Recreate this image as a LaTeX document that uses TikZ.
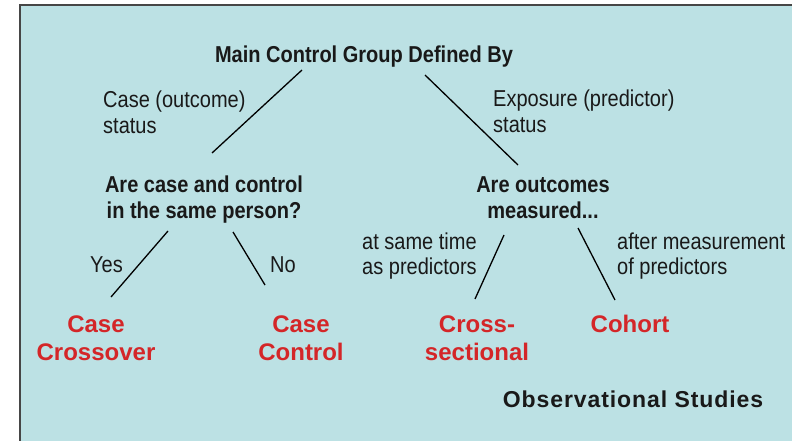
\documentclass[tikz,border=0pt]{standalone}
\usepackage{fontspec}
\setmainfont{Liberation Sans}
\newfontfamily\narrowsf[FakeStretch=0.87]{Liberation Sans}
\newfontfamily\spacedsf[LetterSpace=4]{Liberation Sans}
\definecolor{panelbg}{RGB}{188,225,228}
\definecolor{panelrule}{RGB}{70,70,70}
\definecolor{studyred}{RGB}{212,38,40}
\definecolor{inkdark}{RGB}{25,25,25}
\tikzset{
  lbl/.style={inner sep=0pt, text=inkdark, align=left,
    font=\narrowsf\fontsize{23}{25}\selectfont},
  question/.style={inner sep=0pt, text=inkdark, align=center,
    font=\narrowsf\bfseries\fontsize{23}{26}\selectfont},
  design/.style={inner sep=0pt, text=studyred, align=center,
    font=\bfseries\fontsize{24}{28}\selectfont},
  branch/.style={draw=black, line width=1.3pt},
}
\begin{document}
\begin{tikzpicture}[x=1pt, y=-1pt]
\useasboundingbox (0,0) rectangle (792,441);
% panel
\fill[panelbg] (20,5) rectangle (792,441);
\draw[panelrule, line width=2pt] (20,441) -- (20,5) -- (792,5);

% headings and questions (base anchor = baseline of the last line)
\node[question, anchor=base] (root) at (364,63) {Main Control Group Defined By};
\node[question, anchor=base] (same) at (204,218) {Are case and control\\in the same person?};
\node[question, anchor=base] (when) at (543,218) {Are outcomes\\measured...};

% branch labels
\node[lbl, anchor=base west] (outc) at (103,133) {Case (outcome)\\status};
\node[lbl, anchor=base west] (expo) at (493,132) {Exposure (predictor)\\status};
\node[lbl, anchor=base west] (yes) at (90,272) {Yes};
\node[lbl, anchor=base west] (no) at (270,272) {No};
\node[lbl, anchor=base west] (sametime) at (362,274) {at same time\\as predictors};
\node[lbl, anchor=base west] (after) at (617,274) {after measurement\\of predictors};

% study designs
\node[design, anchor=base] (crossover) at (96,360) {Case\\Crossover};
\node[design, anchor=base] (casecontrol) at (301,360) {Case\\Control};
\node[design, anchor=base] (crosssec) at (477,360) {Cross-\\sectional};
\node[design, anchor=base] (cohort) at (630,332) {Cohort};

\node[inner sep=0pt, anchor=base, text=inkdark,
  font=\spacedsf\bfseries\fontsize{23}{26}\selectfont] (obs) at (633,407) {Observational Studies};

% branch end points
\coordinate (r1) at (302,70);  \coordinate (s1) at (212,153);
\coordinate (r2) at (425,75);  \coordinate (w1) at (518,165);
\coordinate (s2) at (168,231); \coordinate (cx) at (111,297);
\coordinate (s3) at (233,232); \coordinate (cc) at (265,285);
\coordinate (w2) at (504,235); \coordinate (cs) at (475,299);
\coordinate (w3) at (578,228); \coordinate (co) at (615,300);

\draw[branch] (r1) -- (s1);
\draw[branch] (r2) -- (w1);
\draw[branch] (s2) -- (cx);
\draw[branch] (s3) -- (cc);
\draw[branch] (w2) -- (cs);
\draw[branch] (w3) -- (co);
\end{tikzpicture}
\end{document}
